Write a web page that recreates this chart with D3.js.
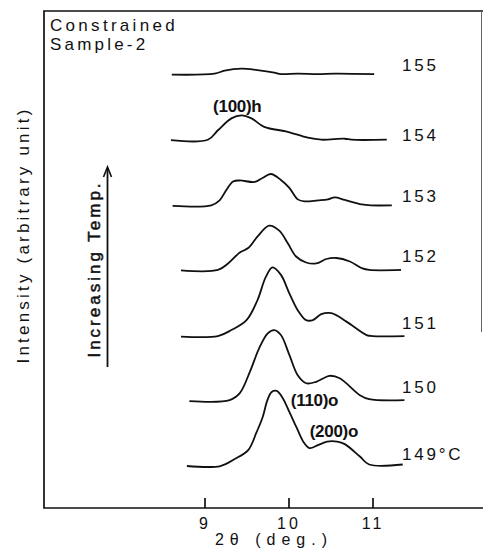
<!DOCTYPE html>
<html>
<head>
<meta charset="utf-8">
<script src="https://cdn.jsdelivr.net/npm/d3@7"></script>
<style>
  body { margin: 0; background: #fff; }
  text { font-family: "Liberation Sans", Arial, sans-serif; fill: #111; }
</style>
</head>
<body>
<script>
// temperatures (deg C) and vertical offset of each scan (arbitrary units)
const temps = ["149", "150", "151", "152", "153", "154", "155"];
const offsets = [8.45, 21.5, 34.5, 47.8, 60.8, 74.0, 87.2];

// [2theta (deg), intensity above baseline (arb. unit)]
const scan149 = [[8.79,0],[9.19,0],[9.36,1.4],[9.52,3.2],[9.62,6.8],[9.69,9.7],[9.75,13.3],[9.80,14.9],[9.86,15.1],[9.93,13.7],[10.01,10.9],[10.10,7.6],[10.18,4.8],[10.25,3.6],[10.35,4.2],[10.46,4.9],[10.58,4.9],[10.67,4.4],[10.85,1.9],[10.96,0.3],[11.36,0.3]];
const scan150 = [[8.82,0],[9.30,0.2],[9.42,1.6],[9.54,5.9],[9.65,10.6],[9.75,13.6],[9.83,14.3],[9.91,13.3],[10.01,9.3],[10.11,5.2],[10.21,3.6],[10.33,3.9],[10.49,5.1],[10.61,4.6],[10.85,1.2],[10.96,0.4],[11.38,0.2]];
const scan151 = [[8.72,0],[9.16,0.1],[9.32,1.3],[9.50,3.3],[9.63,7.3],[9.73,12.0],[9.81,13.9],[9.91,12.4],[10.01,8.7],[10.11,5.3],[10.21,3.3],[10.29,3.3],[10.39,4.5],[10.51,4.7],[10.69,3.0],[10.93,0.3],[11.00,0.1],[11.38,0.1]];
const scan152 = [[8.72,0],[9.16,0.1],[9.28,1.4],[9.42,3.6],[9.52,4.5],[9.63,6.8],[9.77,9.0],[9.89,8.0],[9.99,5.5],[10.09,2.8],[10.21,1.6],[10.33,1.4],[10.45,2.3],[10.57,2.5],[10.73,1.8],[10.88,0.4],[10.96,0.1],[11.34,0.1]];
const scan153 = [[8.62,0],[9.08,0.1],[9.18,1.1],[9.26,3.2],[9.34,4.9],[9.42,5.1],[9.60,4.8],[9.69,5.6],[9.79,6.4],[9.91,5.2],[10.01,3.6],[10.11,1.3],[10.19,0.9],[10.35,1.1],[10.47,1.3],[10.55,1.7],[10.67,1.2],[10.87,0.3],[10.98,0.1],[11.23,0.1]];
const scan154 = [[8.60,0],[9.04,0.1],[9.16,2.0],[9.32,4.4],[9.44,5.0],[9.56,4.4],[9.71,2.7],[9.99,1.7],[10.23,0.5],[10.39,0.1],[10.67,0.3],[10.75,0.1],[11.17,0.1]];
const scan155 = [[8.61,0],[9.12,0.2],[9.24,0.8],[9.44,1.2],[9.63,0.9],[9.83,0.4],[9.91,0.1],[10.11,0.2],[10.35,0.1],[10.55,0.2],[11.02,0.1]];
const scans = [scan149, scan150, scan151, scan152, scan153, scan154, scan155];

const xTicks = [9, 10, 11];
// peak annotations: [text, 2theta, intensity]
const peakNotes = [["(100)h", 9.39, 79.7], ["(110)o", 10.31, 20.5], ["(200)o", 10.54, 14.3]];

const W = 483, H = 549;
const plotLeft = 44, plotTop = 11, plotBottom = 508;

const svg = d3.select("body").append("svg")
    .attr("width", W)
    .attr("height", H);

const x = d3.scaleLinear().domain([9, 11]).range([204.5, 372.5]);
const y = d3.scaleLinear().domain([0, 100]).range([plotBottom, plotTop]);

// frame
svg.append("path")
    .attr("d", `M${W + 2},${plotTop}H${plotLeft}V${plotBottom}H${W + 2}`)
    .attr("fill", "none")
    .attr("stroke", "#111")
    .attr("stroke-width", 1.7);
// right edge of the frame, faint in the scan
svg.append("line")
    .attr("x1", 481.5).attr("x2", 481.5)
    .attr("y1", plotTop).attr("y2", 332)
    .attr("stroke", "#666")
    .attr("stroke-width", 1);

// bottom axis, ticks pointing inward
const xAxis = svg.append("g")
    .attr("transform", `translate(0,${plotBottom})`)
    .call(d3.axisBottom(x).tickValues(xTicks).tickSize(-10).tickPadding(10).tickFormat(d3.format("d")));
xAxis.select(".domain").remove();
xAxis.selectAll(".tick line").attr("stroke", "#111").attr("stroke-width", 1.7);
xAxis.selectAll(".tick text")
    .attr("font-size", 16)
    .attr("letter-spacing", "3px")
    .attr("font-family", "Liberation Sans, Arial, sans-serif")
    .attr("fill", "#111");

svg.append("text")
    .attr("x", 274)
    .attr("y", 545)
    .attr("text-anchor", "middle")
    .attr("font-size", 16)
    .attr("letter-spacing", "6px")
    .text("2θ (deg.)");

svg.append("text")
    .attr("transform", "translate(29,235) rotate(-90)")
    .attr("text-anchor", "middle")
    .attr("font-size", 17)
    .attr("letter-spacing", "3.2px")
    .text("Intensity (arbitrary unit)");

svg.append("text")
    .attr("x", 50).attr("y", 31)
    .attr("font-size", 17)
    .attr("letter-spacing", "3.3px")
    .text("Constrained");
svg.append("text")
    .attr("x", 50).attr("y", 50)
    .attr("font-size", 17)
    .attr("letter-spacing", "3.2px")
    .text("Sample-2");

// increasing temp arrow
svg.append("text")
    .attr("transform", "translate(100,269) rotate(-90)")
    .attr("text-anchor", "middle")
    .attr("font-size", 17)
    .attr("letter-spacing", "3px")
    .attr("stroke", "#111")
    .attr("stroke-width", 0.5)
    .text("Increasing Temp.");
svg.append("line")
    .attr("x1", 107.5).attr("x2", 107.5)
    .attr("y1", 367).attr("y2", 168)
    .attr("stroke", "#111").attr("stroke-width", 1.8);
svg.append("path")
    .attr("d", "M103.5,177L107.5,167L111.5,177")
    .attr("fill", "none")
    .attr("stroke", "#111").attr("stroke-width", 1.6);

// scans
const line = d3.line().curve(d3.curveCatmullRom.alpha(0.5));
scans.forEach((s, i) => {
  svg.append("path")
      .datum(s)
      .attr("d", line.x(d => x(d[0])).y(d => y(offsets[i] + d[1])))
      .attr("fill", "none")
      .attr("stroke", "#111")
      .attr("stroke-width", 1.8)
      .attr("stroke-linejoin", "round");
});

// temperature labels
const labelNudge = [-6, -8, -7.5, -8.5, -4, 0.5, -4];
svg.selectAll(".temp")
    .data(temps)
    .enter().append("text")
    .attr("class", "temp")
    .attr("x", x(11.35))
    .attr("y", (d, i) => y(offsets[i]) + labelNudge[i])
    .attr("font-size", 17)
    .attr("letter-spacing", "2.8px")
    .text((d, i) => i === 0 ? d + "°C" : d);

svg.selectAll(".note")
    .data(peakNotes)
    .enter().append("text")
    .attr("class", "note")
    .attr("x", d => x(d[1]))
    .attr("y", d => y(d[2]))
    .attr("text-anchor", "middle")
    .attr("font-size", 17)
    .attr("font-weight", "bold")
    .attr("letter-spacing", "-0.3px")
    .text(d => d[0]);
</script>
</body>
</html>
